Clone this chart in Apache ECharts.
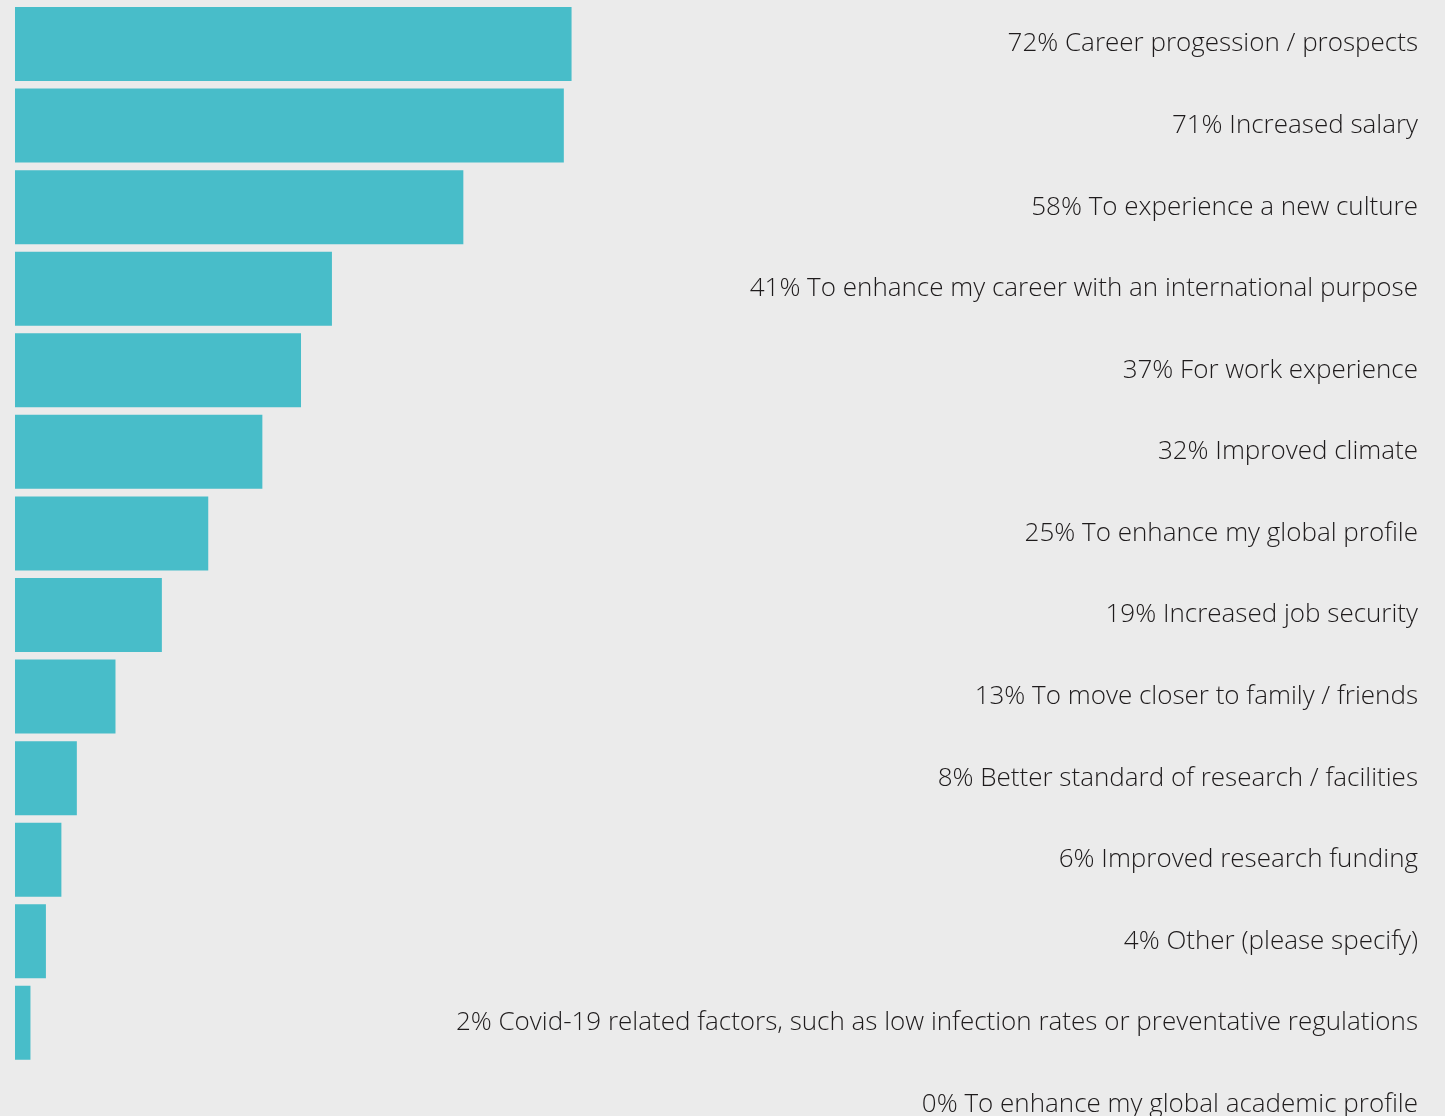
<!DOCTYPE html>
<html>
<head>
<meta charset="utf-8">
<script src="https://cdn.jsdelivr.net/npm/echarts@6/dist/echarts.min.js"></script>
<style>
  html, body { margin: 0; padding: 0; background: #ebebeb; overflow: hidden; }
  #chart { width: 1445px; height: 1146px; }
</style>
</head>
<body>
<div id="chart"></div>
<script>
// Reasons for moving abroad (% of respondents)
const reasons = [
  'Career progession / prospects',
  'Increased salary',
  'To experience a new culture',
  'To enhance my career with an international purpose',
  'For work experience',
  'Improved climate',
  'To enhance my global profile',
  'Increased job security',
  'To move closer to family / friends',
  'Better standard of research / facilities',
  'Improved research funding',
  'Other (please specify)',
  'Covid-19 related factors, such as low infection rates or preventative regulations',
  'To enhance my global academic profile'
];
const shares = [72, 71, 58, 41, 37, 32, 25, 19, 13, 8, 6, 4, 2, 0];

const labels = reasons.map((r, i) => shares[i] + '% ' + r);

const chart = echarts.init(document.getElementById('chart'));
chart.setOption({
  backgroundColor: '#ebebeb',
  animation: false,
  grid: { left: 15, right: 27, top: 3.2, bottom: 0.8 },
  xAxis: {
    type: 'value',
    min: 0,
    max: 181.5,
    show: false
  },
  yAxis: {
    type: 'category',
    data: labels,
    inverse: true,
    position: 'right',
    axisLine: { show: false },
    axisTick: { show: false },
    splitLine: { show: false },
    axisLabel: {
      inside: true,
      margin: 0,
      align: 'right',
      color: '#1e1b1c',
      fontFamily: 'Open Sans',
      fontWeight: 300,
      fontSize: 26
    }
  },
  series: [{
    type: 'bar',
    data: shares,
    barWidth: 74,
    itemStyle: { color: '#48bdc9' }
  }]
});
</script>
</body>
</html>
